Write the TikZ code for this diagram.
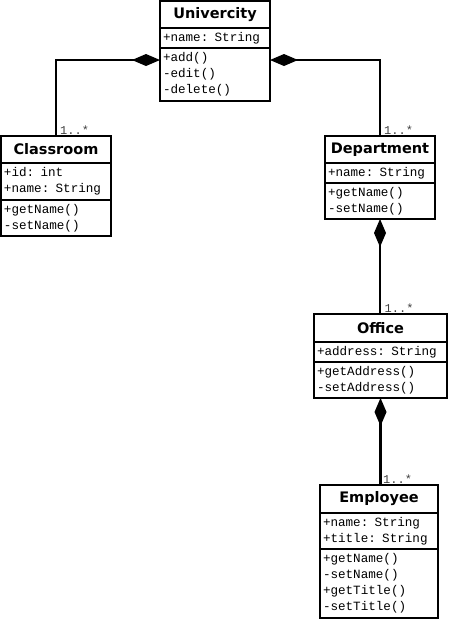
\documentclass[tikz,border=0pt]{standalone}
\usepackage{fontspec}
\usetikzlibrary{arrows.meta}
\newfontfamily\titlefont{DejaVu Sans}
\newfontfamily\memberfont{Liberation Mono}
\tikzset{
  ctitle/.style={draw, line width=2.2pt, outer sep=0pt, font=\titlefont\bfseries\fontsize{14.5}{16}\selectfont, inner sep=0pt, anchor=north west},
  cpart/.style={draw, line width=2.2pt, outer sep=0pt, font=\memberfont\fontsize{12.6}{16}\selectfont, align=left, inner xsep=3pt, inner ysep=0pt, anchor=north},
  comp/.style={line width=2.2pt, -{Diamond[length=28pt,width=12pt]}},
  mult/.style={font=\memberfont\fontsize{12}{13}\selectfont, text=black!75, inner sep=1pt, anchor=south west}
}
\begin{document}
\begin{tikzpicture}[x=1pt,y=-1pt]
\useasboundingbox (0,0) rectangle (449,619);

\node[ctitle, minimum width=110, minimum height=27] (uni) at (160,1) {Univercity};
\node[cpart, text width=104, minimum height=20] (uni-a) at (uni.south) {+name: String};
\node[cpart, text width=104, minimum height=53] (uni-m) at (uni-a.south) {+add()\\-edit()\\-delete()};

\node[ctitle, minimum width=110, minimum height=27] (cls) at (1,136) {Classroom};
\node[cpart, text width=104, minimum height=37] (cls-a) at (cls.south) {+id: int\\+name: String};
\node[cpart, text width=104, minimum height=36] (cls-m) at (cls-a.south) {+getName()\\-setName()};

\node[ctitle, minimum width=110, minimum height=27] (dep) at (325,136) {Department};
\node[cpart, text width=104, minimum height=20] (dep-a) at (dep.south) {+name: String};
\node[cpart, text width=104, minimum height=36] (dep-m) at (dep-a.south) {+getName()\\-setName()};

\node[ctitle, minimum width=133, minimum height=28] (off) at (314,314) {Office};
\node[cpart, text width=127, minimum height=20] (off-a) at (off.south) {+address: String};
\node[cpart, text width=127, minimum height=36] (off-m) at (off-a.south) {+getAddress()\\-setAddress()};

\node[ctitle, minimum width=118, minimum height=28] (emp) at (320,485) {Employee};
\node[cpart, text width=112, minimum height=36] (emp-a) at (emp.south) {+name: String\\+title: String};
\node[cpart, text width=112, minimum height=69] (emp-m) at (emp-a.south) {+getName()\\-setName()\\+getTitle()\\-setTitle()};

\draw[comp] (cls.north) |- ([yshift=-12pt]uni-m.north west);
\draw[comp] (dep.north) |- ([yshift=-12pt]uni-m.north east);
\draw[comp] (dep-m.south |- off.north) -- (dep-m.south);
\draw[comp] (off-m.south |- emp.north) -- (off-m.south);

\node[mult] (m-cls) at ([xshift=3pt]cls.north) {1..*};
\node[mult] (m-dep) at ([xshift=3pt]dep.north) {1..*};
\node[mult] (m-off) at ([xshift=3pt]off.north) {1..*};
\node[mult] (m-emp) at ([xshift=3pt]emp.north) {1..*};
\end{tikzpicture}
\end{document}
